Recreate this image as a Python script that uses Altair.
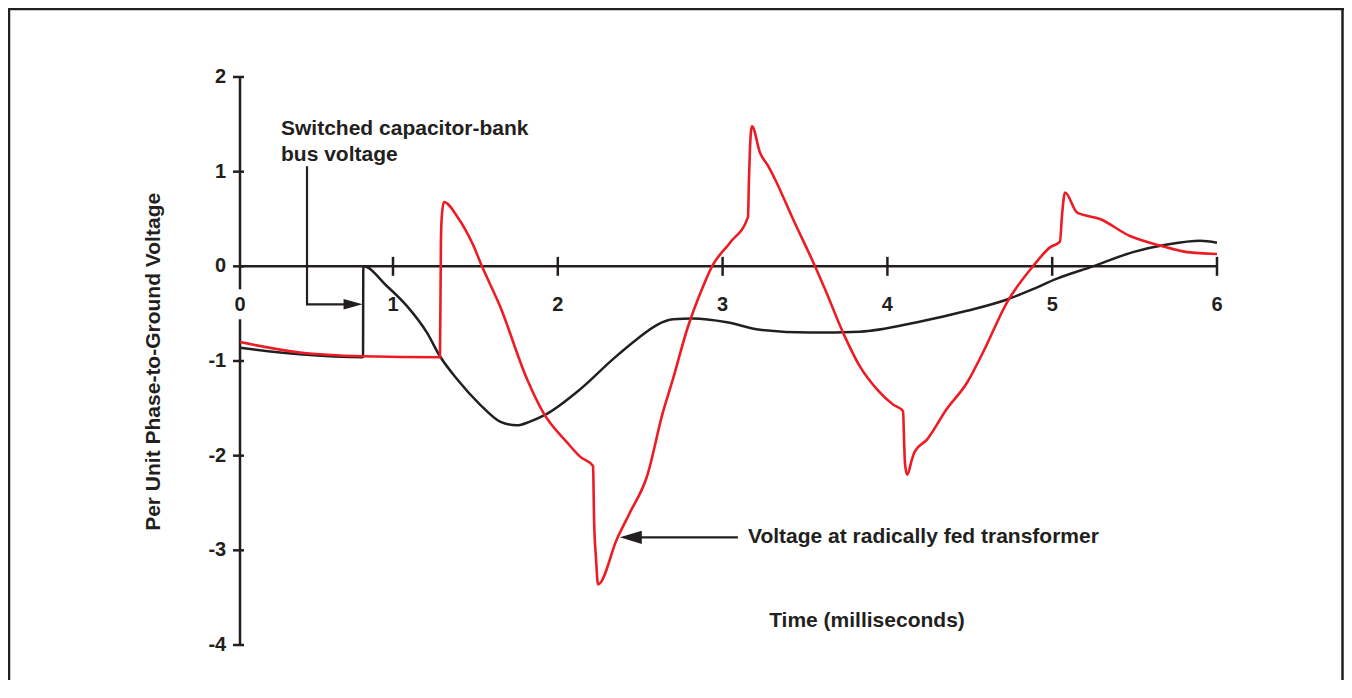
import altair as alt
import pandas as pd

# ---- data ----
bus_t = [0.0, 0.392, 0.804, 0.806, 0.961, 1.085, 1.206, 1.285, 1.388, 1.528, 1.649, 1.752,
         1.831, 1.922, 2.135, 2.335, 2.48, 2.6, 2.7, 2.82, 3.027, 3.227, 3.53, 3.834, 4.18,
         4.483, 4.726, 4.883, 5.029, 5.248, 5.49, 5.697, 5.897, 6.0]
bus_v = [-0.86, -0.93, -0.96, 0.0, -0.21, -0.42, -0.70, -0.95, -1.19, -1.46, -1.64, -1.68,
         -1.64, -1.57, -1.30, -0.98, -0.77, -0.62, -0.56, -0.55, -0.59, -0.67, -0.70, -0.69, -0.59,
         -0.47, -0.35, -0.24, -0.13, 0.0, 0.15, 0.23, 0.27, 0.25]

xfmr_t = [0.0, 0.392, 0.804, 1.285, 1.291, 1.297, 1.309, 1.388, 1.485, 1.54, 1.649, 1.813,
          1.91, 2.056, 2.135, 2.214, 2.22, 2.232, 2.244, 2.359, 2.438, 2.541, 2.638, 2.699,
          2.784, 2.875, 2.936, 3.045, 3.154, 3.16, 3.166, 3.178, 3.227, 3.276, 3.318, 3.427,
          3.561, 3.621, 3.731, 3.834, 3.937, 4.034, 4.095, 4.101, 4.107, 4.12, 4.149, 4.165,
          4.24, 4.359, 4.483, 4.58, 4.726, 4.883, 4.987, 5.047, 5.06, 5.078, 5.15, 5.29,
          5.472, 5.654, 5.818, 6.0]
xfmr_v = [-0.80, -0.91, -0.95, -0.96, 0.29, 0.55, 0.68, 0.53, 0.23, 0.0, -0.42, -1.19,
          -1.54, -1.86, -2.01, -2.11, -2.67, -3.09, -3.36, -2.88, -2.60, -2.22, -1.54, -1.19,
          -0.67, -0.24, 0.0, 0.25, 0.52, 0.92, 1.24, 1.48, 1.20, 1.06, 0.92, 0.50,
          0.0, -0.24, -0.70, -1.06, -1.30, -1.46, -1.53, -1.83, -2.09, -2.20, -2.04, -1.96,
          -1.83, -1.51, -1.23, -0.91, -0.38, 0.0, 0.20, 0.26, 0.55, 0.78, 0.57, 0.50,
          0.32, 0.22, 0.15, 0.13]

x_ticks = [0, 1, 2, 3, 4, 5, 6]
y_ticks = [2, 1, 0, -1, -2, -3, -4]

x_title = "Time (milliseconds)"
y_title = "Per Unit Phase-to-Ground Voltage"
note_bus = ["Switched capacitor-bank", "bus voltage"]
note_xfmr = "Voltage at radically fed transformer"

INK = "#231f20"
RED = "#ed1c24"
FONT = "Liberation Sans"

xs = alt.Scale(domain=[0, 1, 6], range=[232, 385, 1209], nice=False, zero=False)
ys = alt.Scale(domain=[-4, 2], range=[637, 69], nice=False, zero=False)


def X(f, **kw):
    return alt.X(f, type="quantitative", scale=xs, axis=None, **kw)


def Y(f, **kw):
    return alt.Y(f, type="quantitative", scale=ys, axis=None, **kw)


base = alt.Chart(pd.DataFrame({"d": [0]}))

# ---- figure frame (decoration) ----
frame = alt.layer(
    base.mark_rule(color=INK, strokeWidth=2.5).encode(x=alt.value(1), y=alt.value(0), y2=alt.value(672)),
    base.mark_rule(color=INK, strokeWidth=2.5).encode(x=alt.value(0), x2=alt.value(1336), y=alt.value(1)),
    base.mark_rule(color=INK, strokeWidth=2.5).encode(x=alt.value(1334.5), y=alt.value(0), y2=alt.value(672)),
)

# ---- axes drawn in data space ----
xaxis_df = pd.DataFrame({"x": [0], "x2": [6], "y": [0]})
xaxis = alt.Chart(xaxis_df).mark_rule(color=INK, strokeWidth=2.5).encode(
    x=X("x"), x2="x2", y=Y("y"))

xt_df = pd.DataFrame({"t": x_ticks[1:], "y": [0.1] * 6, "y2": [-0.1] * 6})
xticks = alt.Chart(xt_df).mark_rule(color=INK, strokeWidth=2.5).encode(
    x=X("t"), y=Y("y"), y2="y2")

xl_df = pd.DataFrame({"t": x_ticks, "y": [-0.41] * 7, "lab": [str(v) for v in x_ticks]})
xlabels = alt.Chart(xl_df).mark_text(font=FONT, fontSize=20, fontWeight="bold", color=INK,
                                     align="center", baseline="middle").encode(
    x=X("t"), y=Y("y"), text="lab:N")

ya_df = pd.DataFrame({"x": [0, 0], "y": [2, -0.56], "y2": [-0.243, -4]})
yaxis = alt.Chart(ya_df).mark_rule(color=INK, strokeWidth=2.5).encode(
    x=X("x"), y=Y("y"), y2="y2")

yt_df = pd.DataFrame({"v": y_ticks, "x": [-0.046] * 7, "x2": [0.026] * 7})
yticks = alt.Chart(yt_df).mark_rule(color=INK, strokeWidth=2.5).encode(
    y=Y("v"), x=X("x"), x2="x2")

yl_df = pd.DataFrame({"v": y_ticks, "x": [-0.09] * 7, "lab": [str(v) for v in y_ticks]})
ylabels = alt.Chart(yl_df).mark_text(font=FONT, fontSize=20, fontWeight="bold", color=INK,
                                     align="right", baseline="middle").encode(
    x=X("x"), y=Y("v"), text="lab:N")

# ---- series ----
bus_df = pd.DataFrame({"t": bus_t, "v": bus_v, "i": range(len(bus_t))})
xf_df = pd.DataFrame({"t": xfmr_t, "v": xfmr_v, "i": range(len(xfmr_t))})

bus_line = alt.Chart(bus_df).mark_line(color=INK, strokeWidth=2.5, interpolate="monotone").encode(
    x=X("t"), y=Y("v"), order="i:Q")
xf_line = alt.Chart(xf_df).mark_line(color=RED, strokeWidth=2.6, interpolate="monotone").encode(
    x=X("t"), y=Y("v"), order="i:Q")

# ---- annotations ----
lead1_df = pd.DataFrame({"t": [0.438, 0.438, 0.74], "v": [1.056, -0.401, -0.401], "i": [0, 1, 2]})
lead1 = alt.Chart(lead1_df).mark_line(color=INK, strokeWidth=2.2).encode(
    x=X("t"), y=Y("v"), order="i:Q")
head1 = alt.Chart(pd.DataFrame({"t": [0.739], "v": [-0.401]})).mark_point(
    shape="M1,0L-1,-0.55L-1,0.55Z", size=361, filled=True, color=INK, opacity=1, strokeWidth=0
).encode(x=X("t"), y=Y("v"))

lead2_df = pd.DataFrame({"x": [2.45], "x2": [3.093], "y": [-2.863]})
lead2 = alt.Chart(lead2_df).mark_rule(color=INK, strokeWidth=2.2).encode(
    x=X("x"), x2="x2", y=Y("y"))
head2 = alt.Chart(pd.DataFrame({"t": [2.443], "v": [-2.863]})).mark_point(
    shape="M-1,0L1,-0.6L1,0.6Z", size=484, filled=True, color=INK, opacity=1, strokeWidth=0
).encode(x=X("t"), y=Y("v"))

notes_df = pd.DataFrame({
    "t": [0.268, 0.268, 3.154],
    "v": [1.447, 1.172, -2.863],
    "txt": [note_bus[0], note_bus[1], note_xfmr],
})
notes = alt.Chart(notes_df).mark_text(font=FONT, fontSize=21, fontWeight="bold", color=INK,
                                      align="left", baseline="middle").encode(
    x=X("t"), y=Y("v"), text="txt:N")

xt_title = alt.Chart(pd.DataFrame({"t": [3.876], "v": [-3.75], "txt": [x_title]})).mark_text(
    font=FONT, fontSize=21, fontWeight="bold", color=INK, align="center", baseline="middle"
).encode(x=X("t"), y=Y("v"), text="txt:N")

yt_title = alt.Chart(pd.DataFrame({"t": [-0.562], "v": [-1.009], "txt": [y_title]})).mark_text(
    font=FONT, fontSize=21, fontWeight="bold", color=INK, align="center", baseline="middle",
    angle=270
).encode(x=X("t"), y=Y("v"), text="txt:N")

chart = alt.layer(
    frame, xaxis, xticks, xlabels, yaxis, yticks, ylabels,
    bus_line, xf_line, lead1, head1, lead2, head2, notes, xt_title, yt_title
).properties(
    width=1336, height=672, padding=0,
    autosize=alt.AutoSizeParams(type="none"),
).configure_view(stroke=None).configure(background="white")

chart.save("out.html", embed_options={"renderer": "svg", "actions": False})
